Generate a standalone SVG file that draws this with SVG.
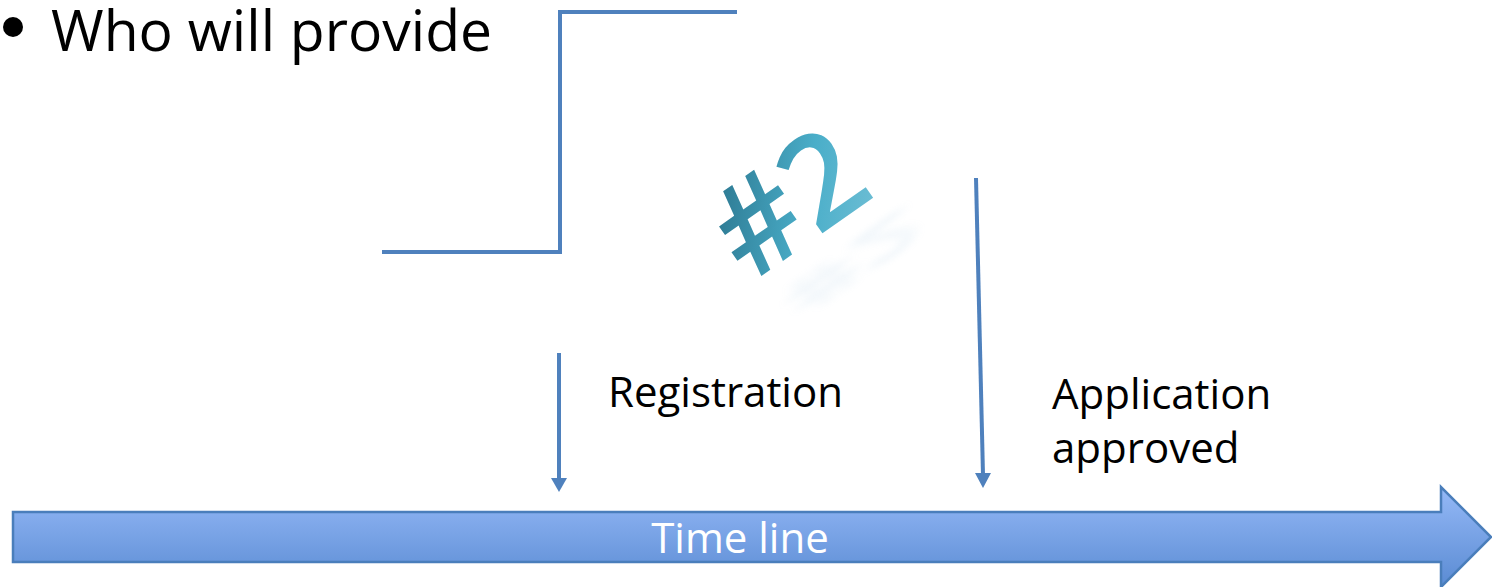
<svg xmlns="http://www.w3.org/2000/svg" width="1492" height="587" viewBox="0 0 1492 587">
<defs>
<linearGradient id="tl" x1="0" y1="0" x2="0" y2="1">
<stop offset="0" stop-color="#95b9f7"/>
<stop offset="1" stop-color="#5a8bd3"/>
</linearGradient>
<linearGradient id="teal" x1="0" y1="0" x2="1" y2="1">
<stop offset="0" stop-color="#1f5f77"/>
<stop offset="0.6" stop-color="#4aaec9"/>
<stop offset="1" stop-color="#79c3d8"/>
</linearGradient>
<filter id="blur" x="-50%" y="-50%" width="200%" height="200%"><feGaussianBlur stdDeviation="8"/></filter>
<style>
.ln{stroke:#4f81bd;stroke-width:4;fill:none}
.t{font-family:"Open Sans","Liberation Sans",sans-serif;fill:#000}
.hd{fill:#4f81bd}
</style>
</defs>
<g id="bullet">
<circle cx="13" cy="27" r="10" fill="#000"/>
<text class="t" x="51" y="51" font-size="57">Who will provide</text>
</g>
<g id="connectors">
<polyline class="ln" points="382,252 560,252 560,12 737,12"/>
<line class="ln" x1="559" y1="353" x2="559" y2="480"/>
<path class="hd" d="M551,478 L567,478 L559,492 Z"/>
<line class="ln" x1="976" y1="178" x2="983" y2="475"/>
<path class="hd" d="M975,473 L991,473 L983,488 Z"/>
</g>
<g id="hash2">
<text x="0" y="0" transform="translate(780,292) rotate(-35) scale(1,-0.4)" font-family="Open Sans,sans-serif" font-size="125" font-weight="600" fill="#9cc3e0" opacity="0.15" filter="url(#blur)">#2</text>
<text x="0" y="0" transform="translate(750,284) rotate(-35)" font-family="Open Sans,sans-serif" font-size="128" font-weight="600" fill="url(#teal)">#2</text>
</g>
<g id="registration">
<text class="t" x="608" y="407" font-size="42">Registration</text>
</g>
<g id="approved">
<text class="t" x="1052" y="409" font-size="42">Application</text>
<text class="t" x="1052" y="463" font-size="42">approved</text>
</g>
<g id="timeline">
<path d="M13,512 L1441,512 L1441,487 L1491,537 L1441,587 L1441,562 L13,562 Z" fill="url(#tl)" stroke="#4a7ebb" stroke-width="2.5"/>
<text x="740" y="553" font-size="42" font-family="Open Sans,Liberation Sans,sans-serif" fill="#fff" text-anchor="middle">Time line</text>
</g>
</svg>
